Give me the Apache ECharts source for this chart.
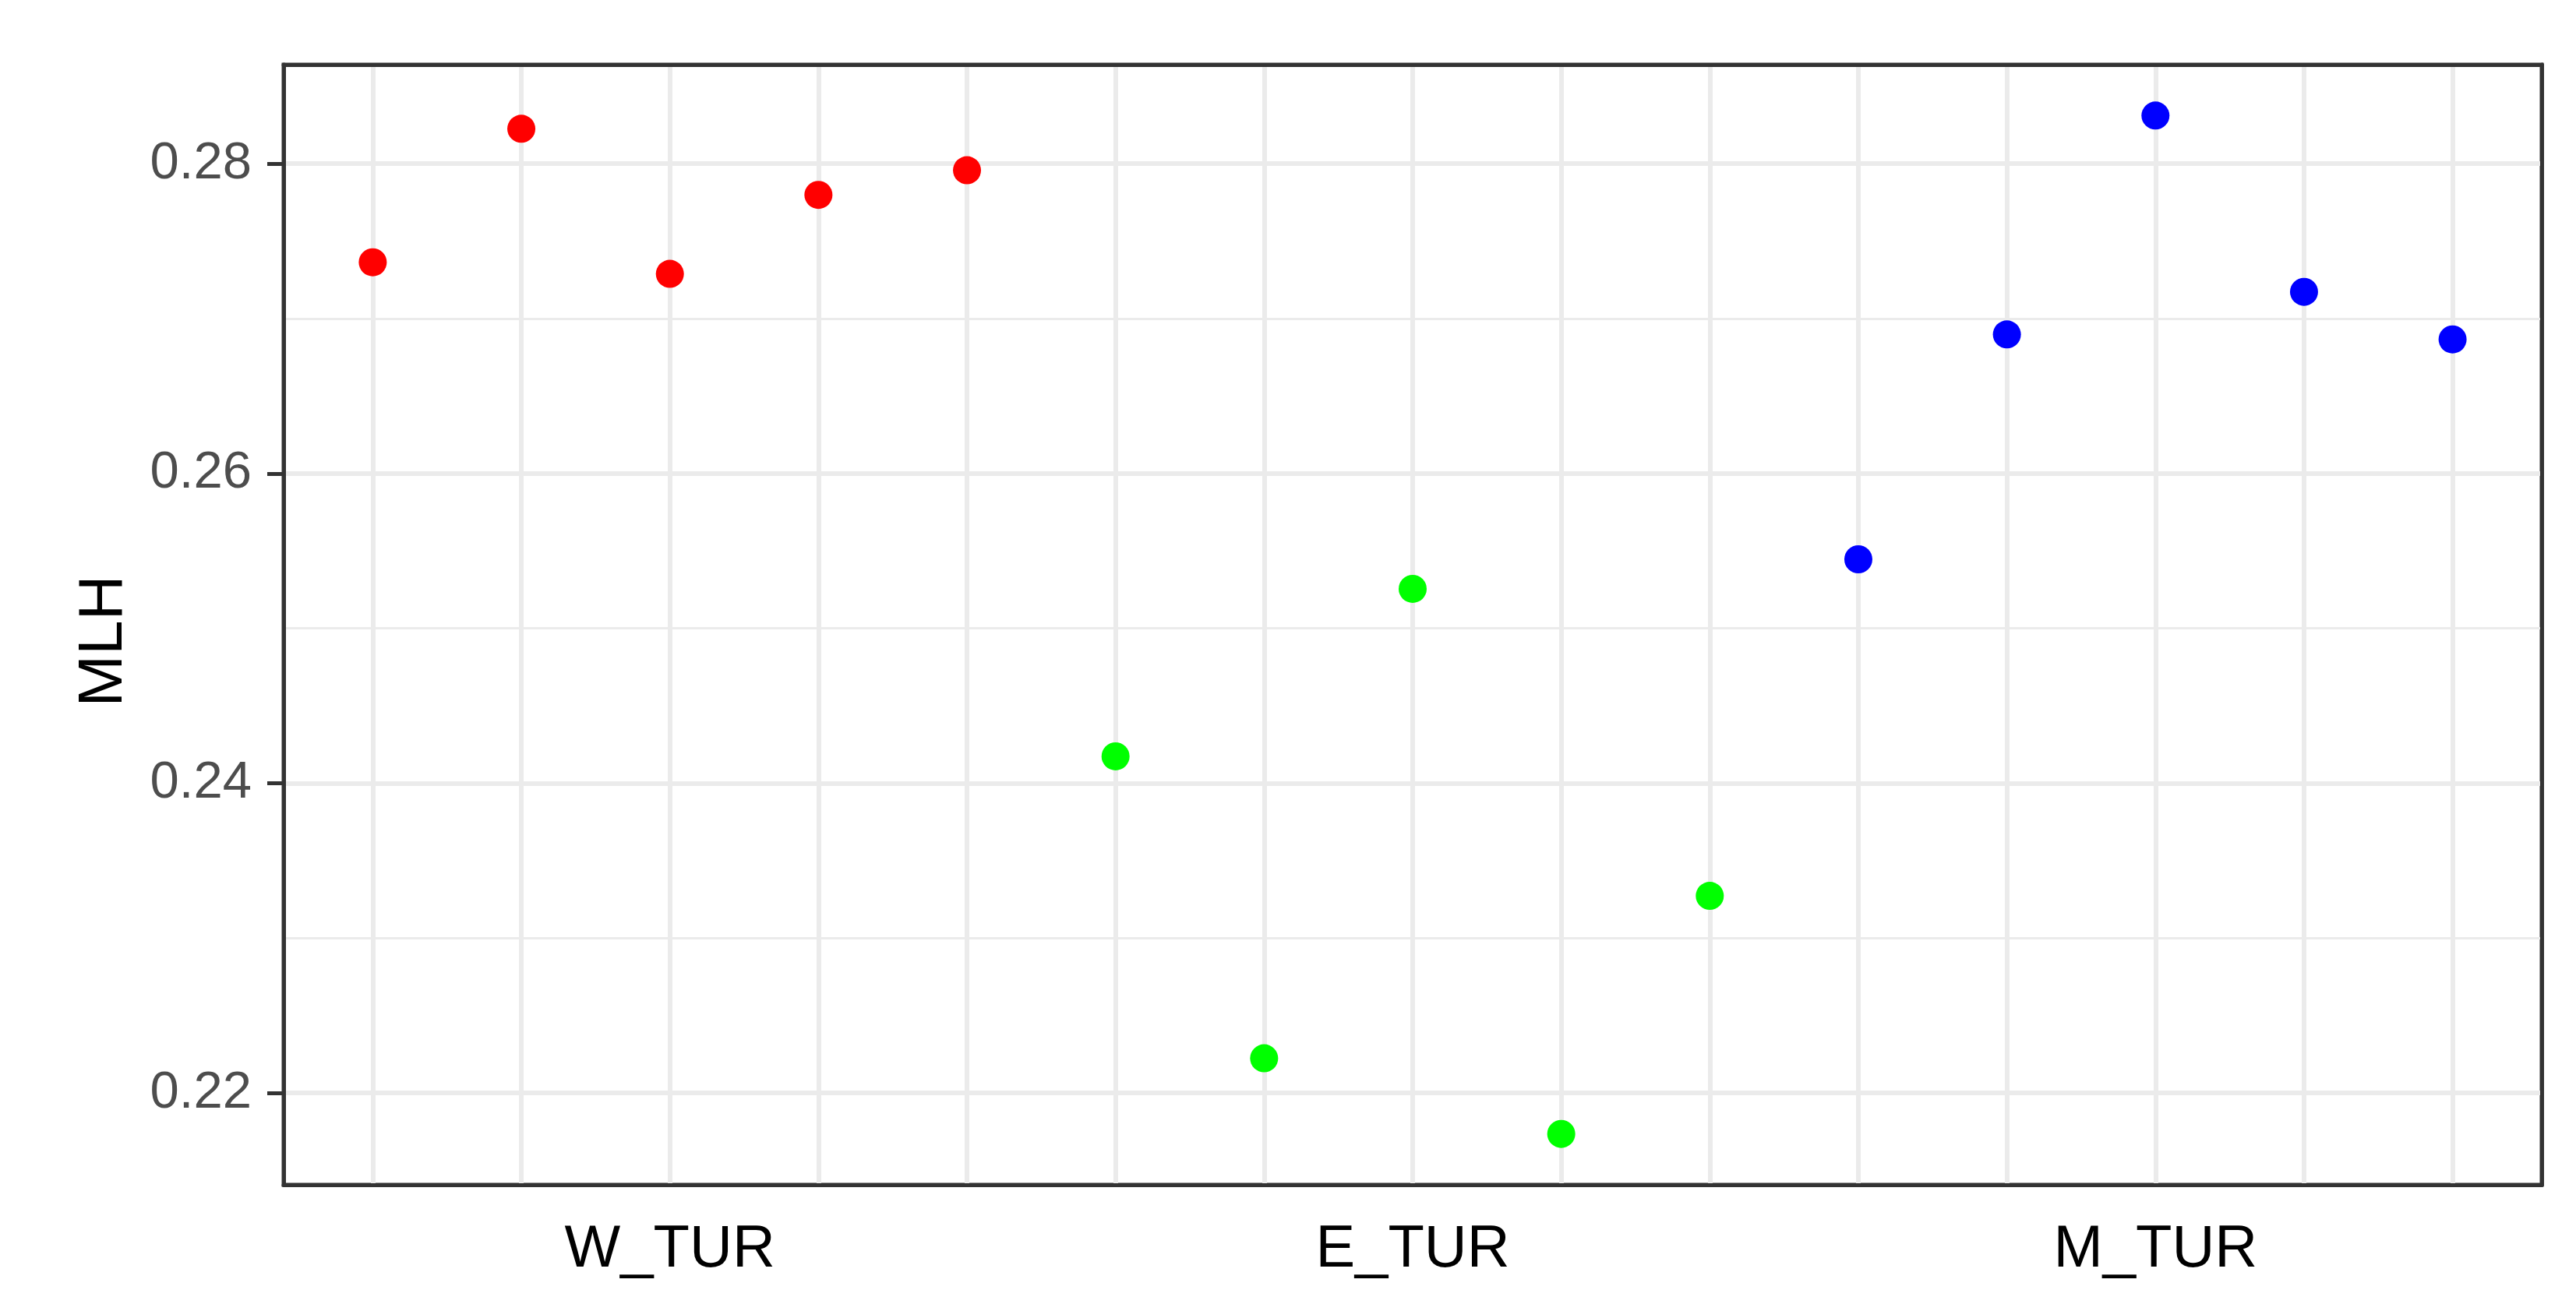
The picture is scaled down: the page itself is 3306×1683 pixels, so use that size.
<!DOCTYPE html>
<html><head><meta charset="utf-8">
<script src="https://cdn.jsdelivr.net/npm/echarts@6/dist/echarts.min.js"></script>
<style>html,body{margin:0;padding:0;background:#fff}#c{width:3306px;height:1683px}</style>
</head><body><div id="c"></div>
<script>
// ---- data ----
const groups = ['W_TUR', 'E_TUR', 'M_TUR'];
const groupColors = ['#FF0000', '#00FF00', '#0000FF'];
const wTur = [0.27364, 0.28226, 0.27289, 0.27799, 0.27958];
const eTur = [0.24174, 0.22224, 0.25255, 0.21736, 0.23273];
const mTur = [0.25446, 0.26898, 0.28311, 0.27173, 0.26866];
const yMajorTicks = [0.22, 0.24, 0.26, 0.28];
const yMinorTicks = [0.23, 0.25, 0.27];
const yTitle = 'MLH';

// ---- build ----
const groupValues = [wTur, eTur, mTur];
const nPer = wTur.length;
const nTotal = groupValues.reduce((s, a) => s + a.length, 0);
const xSlots = Array.from({length: nTotal}, (_, i) => i + 1);
const labelPos = groups.map((g, i) => i * nPer + (nPer + 1) / 2);
const allVals = [].concat(...groupValues);
const lo = Math.min(...allVals), hi = Math.max(...allVals);
const pad = (hi - lo) * 0.05;
const xPad = 0.6;

const FONT = '"Liberation Sans", Arial, Helvetica, sans-serif';
const GRID_COLOR = '#EBEBEB';
const BORDER = '#333333';

const series = groupValues.map((vals, gi) => ({
  type: 'scatter',
  name: groups[gi],
  xAxisIndex: 0, yAxisIndex: 0,
  symbolSize: 36,
  itemStyle: {color: groupColors[gi], opacity: 1},
  data: vals.map((v, i) => [gi * nPer + i + 1, v]),
  z: 5
}));

const chart = echarts.init(document.getElementById('c'), null, {renderer: 'canvas'});
chart.setOption({
  animation: false,
  backgroundColor: '#ffffff',
  grid: {left: 364, right: 44, top: 83, bottom: 162, show: true,
         borderColor: BORDER, borderWidth: 5, backgroundColor: 'transparent'},
  xAxis: [{
    type: 'value', position: 'bottom',
    min: 1 - xPad, max: nTotal + xPad,
    axisLine: {show: true, onZero: false, lineStyle: {color: BORDER, width: 5}},
    axisTick: {show: false, customValues: xSlots},
    splitLine: {show: true, lineStyle: {color: GRID_COLOR, width: 6}},
    axisLabel: {
      show: true, customValues: labelPos, margin: 46,
      fontSize: 76, fontFamily: FONT, color: '#000000',
      formatter: v => { const i = labelPos.indexOf(v); return i >= 0 ? groups[i] : ''; }
    }
  }, {
    type: 'value', position: 'top',
    min: 1 - xPad, max: nTotal + xPad,
    axisLine: {show: true, onZero: false, lineStyle: {color: BORDER, width: 5}},
    axisTick: {show: false}, splitLine: {show: false}, axisLabel: {show: false}
  }],
  yAxis: [{
    type: 'value', position: 'left',
    min: lo - pad, max: hi + pad,
    name: yTitle, nameLocation: 'middle', nameGap: 190, nameRotate: 90,
    nameTextStyle: {fontSize: 80, fontFamily: FONT, color: '#000000', padding: [0, 42, 0, 0]},
    axisLine: {show: true, onZero: false, lineStyle: {color: BORDER, width: 5}},
    axisTick: {show: true, length: 21, customValues: yMajorTicks, lineStyle: {color: BORDER, width: 5}},
    splitLine: {show: true, lineStyle: {color: GRID_COLOR, width: 6}},
    axisLabel: {
      show: true, customValues: yMajorTicks, margin: 41,
      fontSize: 67, fontFamily: FONT, color: '#4D4D4D',
      formatter: v => v.toFixed(2)
    }
  }, {
    type: 'value', position: 'right',
    min: lo - pad, max: hi + pad,
    axisLine: {show: true, onZero: false, lineStyle: {color: BORDER, width: 5}},
    axisTick: {show: false, customValues: yMinorTicks},
    splitLine: {show: true, lineStyle: {color: GRID_COLOR, width: 3}},
    axisLabel: {show: false}
  }],
  series: series
});
</script>
</body></html>
